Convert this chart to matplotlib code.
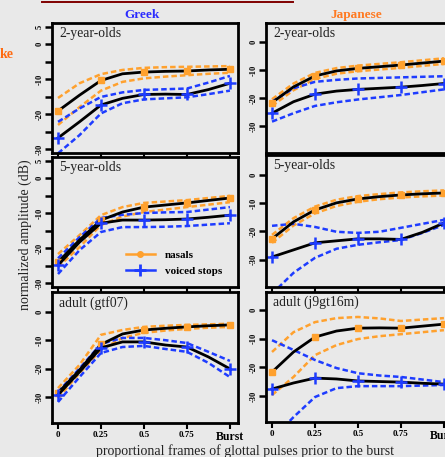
import matplotlib
matplotlib.use("Agg")
import matplotlib.pyplot as plt
from matplotlib.lines import Line2D

# ---------------- data ----------------
frames = [0, 0.125, 0.25, 0.375, 0.5, 0.625, 0.75, 0.875, 1.0]
x_tick_vals = [0, 0.25, 0.5, 0.75, 1.0]
x_tick_labels = ["0", "0.25", "0.5", "0.75", "Burst"]
y_tick_labels_fine = ["5", "0", "", "-10", "", "-20", "", "-30"]
y_tick_labels = ["0", "-10", "-20", "-30"]

panel_titles = ["2-year-olds", "2-year-olds", "5-year-olds", "5-year-olds",
                "adult (gtf07)", "adult (j9gt16m)"]
languages = ["Greek", "Japanese"]
legend_labels = ["nasals", "voiced stops"]

# Greek 2-year-olds
gr2_nas_mean = [-19.1, -14.6, -10.4, -8.5, -8.0, -7.8, -7.7, -7.4, -7.2]
gr2_nas_hi = [-15.4, -11.2, -8.6, -7.4, -6.8, -6.6, -6.5, -6.4, -6.3]
gr2_nas_lo = [-23.1, -18.0, -13.3, -10.8, -9.8, -9.3, -8.9, -8.5, -8.2]
gr2_stp_mean = [-26.8, -22.2, -17.4, -15.5, -14.4, -14.3, -14.4, -13.0, -11.2]
gr2_stp_hi = [-22.2, -18.4, -15.1, -13.8, -13.1, -12.9, -12.7, -11.0, -9.1]
gr2_stp_lo = [-31.2, -26.0, -19.8, -16.9, -15.8, -15.5, -15.2, -14.3, -13.3]

# Japanese 2-year-olds
jp2_nas_mean = [-21.6, -16.0, -12.1, -10.3, -9.4, -8.8, -8.2, -7.5, -6.8]
jp2_nas_hi = [-20.4, -14.8, -11.0, -9.3, -8.4, -7.8, -7.2, -6.5, -5.8]
jp2_nas_lo = [-22.8, -17.2, -13.2, -11.3, -10.4, -9.8, -9.2, -8.5, -7.8]
jp2_stp_mean = [-25.4, -21.3, -18.6, -17.5, -16.9, -16.5, -16.1, -15.5, -14.8]
jp2_stp_hi = [-21.3, -16.5, -14.2, -13.5, -13.0, -12.8, -12.6, -12.4, -12.2]
jp2_stp_lo = [-28.4, -25.4, -22.8, -21.5, -20.5, -19.7, -18.9, -17.9, -16.9]

# Greek 5-year-olds
gr5_nas_mean = [-24.0, -17.7, -12.0, -9.7, -8.3, -7.7, -7.1, -6.4, -5.7]
gr5_nas_hi = [-21.7, -16.3, -10.6, -8.3, -7.1, -6.7, -6.3, -5.7, -5.1]
gr5_nas_lo = [-25.4, -19.7, -13.4, -11.0, -9.7, -9.0, -8.3, -7.6, -6.9]
gr5_stp_mean = [-24.9, -18.3, -12.9, -12.0, -12.0, -11.9, -11.7, -11.2, -10.6]
gr5_stp_hi = [-22.9, -16.9, -11.4, -10.5, -10.0, -9.8, -9.7, -9.0, -8.3]
gr5_stp_lo = [-27.4, -20.6, -15.4, -14.0, -14.0, -13.9, -13.7, -13.3, -12.9]

# Japanese 5-year-olds
jp5_nas_mean = [-22.6, -16.6, -12.4, -9.9, -8.5, -7.7, -7.1, -6.7, -6.4]
jp5_nas_hi = [-21.2, -15.3, -11.2, -8.8, -7.5, -6.8, -6.2, -5.8, -5.5]
jp5_nas_lo = [-24.0, -17.9, -13.6, -11.0, -9.5, -8.6, -8.0, -7.6, -7.3]
jp5_stp_mean = [-29.0, -26.5, -24.0, -23.3, -22.6, -22.6, -22.8, -20.3, -17.0]
jp5_stp_hi = [-18.0, -17.3, -18.4, -20.1, -20.5, -20.1, -18.7, -17.3, -15.9]
jp5_stp_lo = [-42.0, -34.6, -29.3, -26.1, -24.7, -23.8, -23.0, -20.5, -17.7]

# Greek adult (gtf07)
grA_nas_mean = [-28.6, -20.5, -11.5, -7.8, -6.4, -5.8, -5.3, -4.9, -4.6]
grA_nas_hi = [-26.9, -18.7, -8.1, -6.4, -5.3, -4.9, -4.6, -4.4, -4.2]
grA_nas_lo = [-30.4, -21.6, -13.4, -9.2, -7.4, -6.6, -6.0, -5.6, -5.3]
grA_stp_mean = [-29.3, -21.2, -12.7, -10.6, -10.6, -11.7, -12.4, -15.9, -20.1]
grA_stp_hi = [-28.3, -20.0, -11.3, -9.2, -9.2, -10.0, -11.0, -14.1, -17.3]
grA_stp_lo = [-31.8, -23.0, -14.5, -12.4, -12.0, -13.1, -14.1, -18.0, -23.0]

# Japanese adult (j9gt16m)
jpA_nas_mean = [-21.6, -14.6, -9.4, -7.3, -6.3, -6.2, -6.3, -5.6, -4.9]
jpA_nas_hi = [-14.6, -7.7, -4.2, -2.8, -2.4, -2.9, -3.8, -3.3, -2.8]
jpA_nas_lo = [-29.6, -23.3, -15.7, -12.2, -10.1, -9.1, -8.4, -7.7, -7.0]
jpA_stp_mean = [-27.5, -25.4, -23.7, -24.0, -24.7, -24.9, -25.1, -25.5, -25.8]
jpA_stp_hi = [-10.5, -13.9, -17.4, -20.2, -22.0, -22.8, -23.3, -24.2, -25.1]
jpA_stp_lo = [-45.0, -37.3, -30.3, -27.2, -26.5, -26.5, -26.5, -26.3, -26.1]

# ---------------- style ----------------
BG = "#e9e9e9"
ORANGE = "#ffa12e"
BLUE = "#1e3cff"
SERIF = ["Liberation Serif", "DejaVu Serif"]
W, H = 445, 457

fig = plt.figure(figsize=(W / 100, H / 100), dpi=100, facecolor=BG)


def rect(l, r, t, b):
    return [l / W, 1 - b / H, (r - l) / W, (b - t) / H]


panels = [
    dict(r=rect(52, 238, 23, 153), ylim=(-31.1, 6.0), fine=True,
         d=(gr2_nas_mean, gr2_nas_hi, gr2_nas_lo, gr2_stp_mean, gr2_stp_hi, gr2_stp_lo)),
    dict(r=rect(266, 452, 23, 153), ylim=(-39.6, 6.8), fine=False,
         d=(jp2_nas_mean, jp2_nas_hi, jp2_nas_lo, jp2_stp_mean, jp2_stp_hi, jp2_stp_lo)),
    dict(r=rect(52, 238, 157, 287), ylim=(-31.1, 6.0), fine=True,
         d=(gr5_nas_mean, gr5_nas_hi, gr5_nas_lo, gr5_stp_mean, gr5_stp_hi, gr5_stp_lo)),
    dict(r=rect(266, 452, 155, 287), ylim=(-39.6, 7.0), fine=False,
         d=(jp5_nas_mean, jp5_nas_hi, jp5_nas_lo, jp5_stp_mean, jp5_stp_hi, jp5_stp_lo)),
    dict(r=rect(52, 238, 292, 423), ylim=(-39.2, 7.0), fine=False,
         d=(grA_nas_mean, grA_nas_hi, grA_nas_lo, grA_stp_mean, grA_stp_hi, grA_stp_lo)),
    dict(r=rect(266, 452, 292, 422), ylim=(-39.0, 6.3), fine=False,
         d=(jpA_nas_mean, jpA_nas_hi, jpA_nas_lo, jpA_stp_mean, jpA_stp_hi, jpA_stp_lo)),
]

axes = []
for i, p in enumerate(panels):
    ax = fig.add_axes(p["r"], facecolor=BG)
    axes.append(ax)
    nm, nh, nl, sm, sh, sl = p["d"]
    dash = dict(ls=(0, (2.2, 1.2)), lw=1.8)
    ax.plot(frames, nh, color=ORANGE, **dash)
    ax.plot(frames, nl, color=ORANGE, **dash)
    ax.plot(frames, sh, color=BLUE, **dash)
    ax.plot(frames, sl, color=BLUE, **dash)
    ax.plot(frames, nm, color="black", lw=2.0, marker="s", ms=4,
            mfc=ORANGE, mec=ORANGE, markevery=[0, 2, 4, 6, 8])
    ax.plot(frames, sm, color="black", lw=2.0, marker="+", ms=8, mew=1.8,
            mec=BLUE, markevery=[0, 2, 4, 6, 8])
    ax.set_xlim(-0.035, 1.047)
    ax.set_ylim(*p["ylim"])
    for s in ax.spines.values():
        s.set_linewidth(2.0)
        s.set_color("black")
    if p["fine"]:
        ax.set_yticks([5, 0, -5, -10, -15, -20, -25, -30])
        ax.set_yticklabels(y_tick_labels_fine)
    else:
        ax.set_yticks([0, -10, -20, -30])
        ax.set_yticklabels(y_tick_labels)
    ax.tick_params(axis="y", direction="out", length=5, width=1.8, pad=1,
                   labelsize=6)
    for t in ax.get_yticklabels():
        t.set_rotation(90)
        t.set_va("center")
        t.set_fontweight("bold")
        t.set_family(SERIF)
    ax.set_xticks(x_tick_vals)
    ax.tick_params(axis="x", direction="out", length=4, width=1.5, pad=2,
                   labelsize=6.5)
    if i >= 4:
        ax.set_xticklabels(x_tick_labels)
        for t in ax.get_xticklabels():
            t.set_fontweight("bold")
            t.set_family(SERIF)
        ax.get_xticklabels()[-1].set_fontsize(8.5)
    else:
        ax.set_xticklabels([])
    ax.text(0.04, 0.97, panel_titles[i], transform=ax.transAxes, ha="left",
            va="top", fontsize=9.8, family=SERIF, color="#222222")

# legend in Greek 5-year-olds panel
handles = [
    Line2D([], [], color=ORANGE, lw=1.8, marker="o", ms=4, mfc=ORANGE, mec=ORANGE),
    Line2D([], [], color=BLUE, lw=1.8, marker="+", ms=8, mew=2, mec=BLUE),
]
leg = axes[2].legend(handles, legend_labels, loc="center left",
                     bbox_to_anchor=(116 / W, 1 - 263 / H),
                     bbox_transform=fig.transFigure, frameon=False,
                     prop=dict(family=SERIF, weight="bold", size=8),
                     handlelength=2.6, handletextpad=0.9, labelspacing=0.55)

# titles and labels
fig.text(142 / W, 1 - 15 / H, languages[0], ha="center", va="center",
         color="#2b2bff", fontsize=9.5, fontweight="bold", family=SERIF)
fig.text(356 / W, 1 - 15 / H, languages[1], ha="center", va="center",
         color="#ff7a22", fontsize=9.5, fontweight="bold", family=SERIF)
fig.text(14 / W, 1 - 55 / H, "ke", ha="right", va="center",
         color="#ff6a10", fontsize=10, fontweight="bold", family=SERIF)
fig.add_artist(Line2D([42 / W, 293 / W], [1 - 1.8 / H, 1 - 1.8 / H],
                      color="#800000", lw=1.4, transform=fig.transFigure))
fig.text(25 / W, 1 - 235 / H, "normalized amplitude (dB)", rotation=90,
         ha="center", va="center", fontsize=10, family=SERIF, color="#222222")
fig.text(245 / W, 1 - 451 / H,
         "proportional frames of glottal pulses prior to the burst",
         ha="center", va="center", fontsize=10, family=SERIF, color="#222222")

fig.savefig("out.png", dpi=100, facecolor=BG)
